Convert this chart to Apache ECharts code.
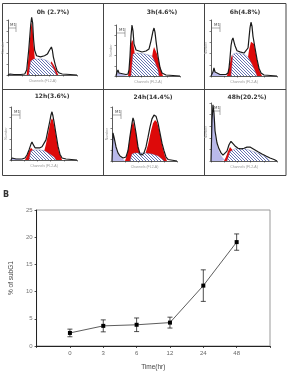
<!DOCTYPE html>
<html><head><meta charset="utf-8">
<script src="https://cdn.jsdelivr.net/npm/echarts@6/dist/echarts.min.js"></script>
<style>html,body{margin:0;padding:0;background:#fff}#c{width:287px;height:372px}</style>
</head><body><div id="c"></div>
<script>
// ---------- Panel A: DNA histograms (x: channel 0-100 of axis, y: count 0-100 of axis) ----------
const panelTitles = ['0h (2.7%)', '3h(4.6%)', '6h(4.8%)', '12h(3.6%)', '24h(14.4%)', '48h(20.2%)'];

const outline0h = [[0,0],[2.9,1.8],[5.7,3.6],[8.6,0.9],[18.6,0.9],[24.3,1.8],[27.1,9.1],[30,45],[32.9,91],[34.3,105],[35.7,95],[37.1,64],[38.6,45],[41.4,35],[47.1,33],[52.9,35],[57.1,38],[60,45],[62.9,51],[64.3,45],[65.7,33],[68.6,18],[71.4,7],[74.3,3.6],[78.6,1.8],[90,0.9],[100,0]];
const sub0h = [[0,0],[2.9,1.5],[5.7,3],[8.6,0.8],[12,0]];
const g1_0h = [[27.1,0],[30,36],[32.9,82],[34.3,96],[35.7,85],[37.1,55],[38.6,33],[40,15],[41.4,0]];
const s_0h = [[30,0],[32.9,25],[37.1,29],[50,29],[58.6,25],[62.9,20],[67.1,9],[70,0]];
const g2_0h = [[57.1,0],[60,15],[62.9,25],[64.3,27],[65.7,23],[68.6,13],[71.4,4],[72.9,0]];

const outline3h = [[0,0],[1.6,7.8],[3.1,11.8],[4.7,5.9],[7.8,3.9],[15.6,2.9],[18.8,3.9],[20.3,11.8],[21.9,39],[23.4,78],[25,100],[26.6,88],[28.1,63],[31.3,51],[34.4,49],[40.6,47],[46.9,49],[51.6,53],[54.7,69],[57.8,88],[59.4,94],[60.9,86],[62.5,69],[65.6,39],[68.8,16],[71.9,6],[78.1,2],[100,0]];
const sub3h = [[0,0],[1.6,7.8],[3.1,9.8],[6.3,4.9],[12.5,2.9],[18.8,2],[20.3,0]];
const g1_3h = [[18.8,0],[20.3,9.8],[21.9,35],[23.4,63],[25,71],[26.6,67],[28.1,55],[29.7,39],[31.3,24],[32.8,0]];
const s_3h = [[23.4,0],[26.6,43],[31.3,45],[45.3,43],[56.3,39],[60.9,27],[65.6,12],[67.2,0]];
const g2_3h = [[51.6,0],[54.7,24],[57.8,49],[59.4,57],[60.9,55],[64.1,43],[67.2,27],[70.3,12],[73.4,0]];

const outline6h = [[0,0],[1.5,1.8],[3,7.1],[4.5,14.3],[6.1,7.1],[7.6,3.6],[13.6,2.7],[22.7,2.7],[25.8,5.4],[27.3,14.3],[28.8,32],[30.3,54],[31.8,64],[33.3,68],[34.8,61],[36.4,54],[39.4,45],[43.9,43],[50,41],[53,43],[56.1,50],[57.6,68],[59.1,86],[60.6,96],[62.1,89],[63.6,71],[66.7,50],[69.7,30],[72.7,14],[75.8,5.4],[80.3,1.8],[100,0]];
const sub6h = [[0,0],[1.5,1.8],[3,5.4],[4.5,10.7],[6.1,5.4],[9.1,3.6],[16.7,2.7],[25.8,1.8],[27.3,0]];
const g1_6h = [[24.2,0],[27.3,14],[30.3,32],[31.8,38],[33.3,36],[36.4,25],[39.4,11],[40.9,0]];
const s_6h = [[30.3,0],[33.3,39],[37.9,41],[50,39],[56.1,34],[62.1,21],[66.7,9],[69.7,0]];
const g2_6h = [[51.5,0],[54.5,21],[57.6,46],[60.6,61],[62.1,64],[65.2,57],[68.2,39],[71.2,21],[74.2,7],[77.3,0]];

const outline12h = [[0,0],[1.5,3.8],[3,5.7],[4.5,3.8],[7.6,1.9],[16.7,1.9],[21.2,3.8],[24.2,9.4],[27.3,19],[30.3,30],[31.8,34],[33.3,30],[36.4,23],[39.4,21],[43.9,23],[47,25],[50,26],[53,38],[56.1,57],[59.1,75],[60.6,85],[62.1,91],[63.6,83],[65.2,72],[68.2,49],[71.2,26],[74.2,11],[77.3,3.8],[83.3,1.9],[100,0]];
const sub12h = [[0,0],[1.5,3.8],[3,4.7],[6.1,2.8],[13.6,1.9],[19.7,0]];
const g1_12h = [[21.2,0],[24.2,7.5],[27.3,17],[30.3,23],[31.8,23],[33.3,19],[36.4,9.4],[39.4,0]];
const s_12h = [[27.3,0],[30.3,17],[34.8,19],[43.9,19],[51.5,17],[59.1,11],[65.2,5.7],[68.2,0]];
const g2_12h = [[47,0],[50,15],[53,30],[56.1,49],[59.1,68],[60.6,75],[62.1,79],[63.6,75],[66.7,57],[69.7,34],[72.7,15],[75.8,5.7],[77.3,0]];

const outline24h = [[0,0],[1.5,52],[3.1,44],[6.2,26],[9.2,15],[12.3,9.3],[16.9,5.6],[21.5,7.4],[24.6,19],[27.7,46],[30.8,70],[32.3,80],[33.8,74],[36.9,52],[40,26],[43.1,13],[46.2,11],[49.2,15],[52.3,26],[55.4,44],[58.5,63],[61.5,78],[64.6,85],[66.2,87],[67.7,83],[70.8,70],[73.8,52],[76.9,33],[80,19],[83.1,7.4],[86.2,2.8],[100,0]];
const sub24h = [[0,0],[1.5,50],[3.1,43],[6.2,24],[9.2,13],[12.3,7.4],[16.9,3.7],[20,0]];
const g1_24h = [[20,0],[23.1,11],[26.2,33],[29.2,59],[32.3,74],[33.8,72],[36.9,52],[40,26],[43.1,9.3],[46.2,0]];
const s_24h = [[27.7,0],[30.8,13],[35.4,15],[50.8,15],[61.5,13],[70.8,9.3],[76.9,3.7],[80,0]];
const g2_24h = [[46.2,0],[50.8,11],[55.4,30],[60,56],[63.1,70],[66.2,76],[69.2,72],[72.3,59],[75.4,41],[78.5,22],[81.5,9.3],[84.6,0]];

const outline48h = [[0,0],[1.5,69],[3,97],[4.5,83],[6.1,52],[9.1,31],[12.1,21],[15.2,14],[18.2,10],[21.2,12],[24.2,17],[27.3,28],[30.3,34],[31.8,36],[33.3,33],[36.4,26],[40.9,22],[45.5,21],[50,22],[54.5,24],[59.1,24],[62.1,22],[66.7,19],[71.2,16],[77.3,12],[83.3,8.6],[89.4,5.2],[95.5,2.6],[100,0]];
const sub48h = [[0,0],[1.5,66],[3,93],[4.5,79],[6.1,48],[9.1,28],[12.1,17],[15.2,10],[18.2,5.2],[21.2,1.7],[22.7,0]];
const g1_48h = [[19.7,0],[22.7,6.9],[25.8,17],[28.8,24],[30.3,26],[31.8,24],[34.8,16],[37.9,6.9],[40.9,0]];
const s_48h = [[24.2,0],[28.8,16],[36.4,21],[51.5,21],[62.1,17],[74.2,12],[83.3,6.9],[89.4,0]];
const g2_48h = [];

// ---------- Panel B: % of subG1 over time ----------
const times = ['0', '3', '6', '12', '24', '48'];
const subG1Mean = [2.4, 3.7, 3.9, 4.3, 11.1, 19.1];
const subG1Err = [0.7, 1.1, 1.25, 1.0, 2.9, 1.5];

// ---------- build ----------
const panels = [
  {outline: outline0h, sub: sub0h, g1: g1_0h, s: s_0h, g2: g2_0h},
  {outline: outline3h, sub: sub3h, g1: g1_3h, s: s_3h, g2: g2_3h},
  {outline: outline6h, sub: sub6h, g1: g1_6h, s: s_6h, g2: g2_6h},
  {outline: outline12h, sub: sub12h, g1: g1_12h, s: s_12h, g2: g2_12h},
  {outline: outline24h, sub: sub24h, g1: g1_24h, s: s_24h, g2: g2_24h},
  {outline: outline48h, sub: sub48h, g1: g1_48h, s: s_48h, g2: g2_48h}
];
const layout = [
  {l: 7, t: 20, w: 70, h: 55, tx: 53, ty: 12.5},
  {l: 116, t: 25, w: 64, h: 51, tx: 162, ty: 12.5},
  {l: 211, t: 20, w: 66, h: 56, tx: 245, ty: 12.5},
  {l: 11, t: 107, w: 66, h: 53, tx: 52, ty: 96},
  {l: 112, t: 107, w: 65, h: 54, tx: 153, ty: 97},
  {l: 211, t: 103, w: 66, h: 58, tx: 247, ty: 97}
];

function hatch() {
  const c = document.createElement('canvas');
  c.width = 3; c.height = 3;
  const g = c.getContext('2d');
  g.fillStyle = '#fff'; g.fillRect(0, 0, 3, 3);
  g.strokeStyle = '#3e4ea0'; g.lineWidth = 0.8;
  g.beginPath();
  g.moveTo(0, 0); g.lineTo(3, 3);
  g.moveTo(-1, 2); g.lineTo(1, 4);
  g.moveTo(2, -1); g.lineTo(4, 1);
  g.stroke();
  return c;
}
const hatchPattern = {image: hatch(), repeat: 'repeat'};

const grid = [], xAxis = [], yAxis = [], series = [], graphic = [];
const axLine = {show: true, onZero: false, lineStyle: {color: '#333', width: 0.8}};
const axTick = {show: true, length: 1.5, lineStyle: {color: '#333', width: 0.6}};

layout.forEach((L, i) => {
  grid.push({left: L.l, top: L.t, width: L.w, height: L.h});
  xAxis.push({gridIndex: i, type: 'value', min: 0, max: 100, interval: 20,
    axisLine: axLine, axisTick: axTick, axisLabel: {show: false}, splitLine: {show: false},
    name: 'Channels (FL2-A)', nameLocation: 'middle', nameGap: 4,
    nameTextStyle: {fontSize: 3.5, color: '#999'}});
  yAxis.push({gridIndex: i, type: 'value', min: 0, max: 100, interval: 20,
    axisLine: axLine, axisTick: axTick, axisLabel: {show: false}, splitLine: {show: false},
    name: 'Number', nameLocation: 'middle', nameGap: 3,
    nameTextStyle: {fontSize: 3.5, color: '#999'}});
  const P = panels[i];
  const base = {type: 'line', xAxisIndex: i, yAxisIndex: i, symbol: 'none', clip: false, silent: true,
    lineStyle: {width: 0}};
  series.push(Object.assign({}, base, {data: P.sub, areaStyle: {color: '#b9b9ea', opacity: 1}}));
  series.push(Object.assign({}, base, {data: P.g1, areaStyle: {color: '#dd0a0a', opacity: 1}}));
  series.push(Object.assign({}, base, {data: P.g2, areaStyle: {color: '#dd0a0a', opacity: 1}}));
  series.push(Object.assign({}, base, {data: P.s, areaStyle: {color: hatchPattern, opacity: 1},
    lineStyle: {width: 0.4, color: '#6670b0'}}));
  series.push(Object.assign({}, base, {data: P.outline, lineStyle: {width: 1.2, color: '#1a1a1a'}}));
  graphic.push({type: 'text', x: L.tx, y: L.ty,
    style: {text: panelTitles[i], font: 'bold 6px "DejaVu Sans"', fill: '#333',
      textAlign: 'center', textVerticalAlign: 'middle', align: 'center', verticalAlign: 'middle'}});
  // M1 gate marker
  graphic.push({type: 'text', x: L.l + 3, y: L.t + 3,
    style: {text: 'M1', font: '4px "DejaVu Sans"', fill: '#555'}});
  graphic.push({type: 'polyline', shape: {points: [[L.l + 1, L.t + 8], [L.l + 9, L.t + 8]]},
    style: {stroke: '#555', lineWidth: 0.5, fill: null}});
  graphic.push({type: 'polyline', shape: {points: [[L.l + 9, L.t + 3], [L.l + 9, L.t + 12]]},
    style: {stroke: '#555', lineWidth: 0.5, fill: null}});
});

// frame of panel A
graphic.push({type: 'rect', shape: {x: 2.5, y: 3.5, width: 283.5, height: 172},
  style: {stroke: '#444', lineWidth: 1, fill: null}});
graphic.push({type: 'line', shape: {x1: 103.5, y1: 3.5, x2: 103.5, y2: 175.5}, style: {stroke: '#444', lineWidth: 1}});
graphic.push({type: 'line', shape: {x1: 204.5, y1: 3.5, x2: 204.5, y2: 175.5}, style: {stroke: '#444', lineWidth: 1}});
graphic.push({type: 'line', shape: {x1: 2.5, y1: 89.5, x2: 286, y2: 89.5}, style: {stroke: '#444', lineWidth: 1}});
graphic.push({type: 'text', x: 3, y: 191,
  style: {text: 'B', font: 'bold 8px "DejaVu Sans"', fill: '#333'}});

// panel B
const gi = 6;
grid.push({left: 30, top: 210, right: 17, bottom: 21, show: true, borderColor: '#999', borderWidth: 1,
  backgroundColor: 'transparent'});
xAxis.push({gridIndex: gi, type: 'value', min: -1, max: 6, interval: 1,
  axisLine: {show: true, onZero: false, lineStyle: {color: '#222', width: 1}},
  axisTick: {show: true, length: 2, lineStyle: {color: '#222', width: 0.8}},
  axisLabel: {fontSize: 6, color: '#666', margin: 4, fontFamily: 'Liberation Sans',
    formatter: v => (times[v] !== undefined ? times[v] : '')},
  splitLine: {show: false},
  name: 'Time(hr)', nameLocation: 'middle', nameGap: 18,
  nameTextStyle: {fontSize: 6.5, color: '#444', fontFamily: 'Liberation Sans'}});
yAxis.push({gridIndex: gi, type: 'value', min: 0, max: 25, interval: 5,
  axisLine: {show: true, onZero: false, lineStyle: {color: '#222', width: 1}},
  axisTick: {show: true, length: 2, lineStyle: {color: '#222', width: 0.8}},
  axisLabel: {fontSize: 6, color: '#777', margin: 4, fontFamily: 'Liberation Sans'},
  splitLine: {show: false},
  name: '% of subG1', nameLocation: 'middle', nameGap: 17,
  nameTextStyle: {fontSize: 6.5, color: '#444', fontFamily: 'Liberation Sans'}});
series.push({type: 'custom', xAxisIndex: gi, yAxisIndex: gi, silent: true,
  data: times.map((t, i) => [i, subG1Mean[i] - subG1Err[i], subG1Mean[i] + subG1Err[i]]),
  encode: {x: 0, y: [1, 2]},
  renderItem: function (params, api) {
    const x = api.value(0);
    const lo = api.coord([x, api.value(1)]);
    const hi = api.coord([x, api.value(2)]);
    const w = 2.5;
    const st = {stroke: '#222', lineWidth: 0.8};
    return {type: 'group', children: [
      {type: 'line', shape: {x1: lo[0], y1: lo[1], x2: hi[0], y2: hi[1]}, style: st},
      {type: 'line', shape: {x1: lo[0] - w, y1: lo[1], x2: lo[0] + w, y2: lo[1]}, style: st},
      {type: 'line', shape: {x1: hi[0] - w, y1: hi[1], x2: hi[0] + w, y2: hi[1]}, style: st}
    ]};
  }, z: 3});
series.push({type: 'line', xAxisIndex: gi, yAxisIndex: gi, silent: true,
  data: times.map((t, i) => [i, subG1Mean[i]]),
  symbol: 'rect', symbolSize: 4, itemStyle: {color: '#000'},
  lineStyle: {color: '#333', width: 0.8}, z: 4});

const chart = echarts.init(document.getElementById('c'), null, {renderer: 'canvas'});
chart.setOption({animation: false, backgroundColor: '#fff', grid, xAxis, yAxis, series, graphic});
</script></body></html>
